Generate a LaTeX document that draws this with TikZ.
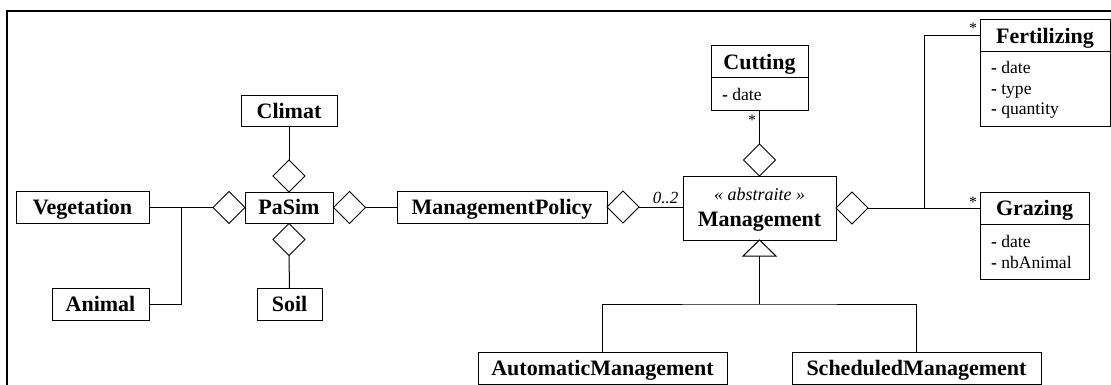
\documentclass[tikz,border=0pt]{standalone}
\usepackage{fontspec}
\setmainfont{Liberation Serif}
\usetikzlibrary{shapes.geometric}
\begin{document}
\begin{tikzpicture}[x=1pt,y=-1pt,
  every node/.style={inner sep=0pt, outer sep=0pt},
  cls/.style={draw, line width=1pt, rectangle,
    font=\fontsize{22}{24}\selectfont\bfseries, text height=14.6pt, text depth=0pt},
  attrbox/.style={draw, line width=1pt, rectangle},
  attr/.style={anchor=base west, font=\fontsize{17.6}{20}\selectfont},
  agg/.style={draw, line width=1pt, diamond, fill=white,
    minimum width=32pt, minimum height=32pt, aspect=1},
  link/.style={line width=1pt},
  mult/.style={font=\fontsize{16}{16}\selectfont},
]
\useasboundingbox (0,0) rectangle (1111,385);

% outer frame
\draw[line width=2pt] (7.3,386) -- (7.3,11) -- (1112,11);

% PaSim and its parts
\node[cls, minimum width=88pt, minimum height=31pt] (pasim) at (289,207.5) {PaSim};
\node[cls, minimum width=96pt, minimum height=31pt] (climat) at (289,111.5) {Climat};
\node[cls, minimum width=65pt, minimum height=32pt] (soil) at (289.5,304) {Soil};
\node[cls, minimum width=133pt, minimum height=32pt] (veg) at (82.5,207.5) {Vegetation};
\node[cls, minimum width=97pt, minimum height=32pt] (animal) at (100.5,304) {Animal};

\node[agg] (dCl) at (289,176) {};
\node[agg] (dSo) at (289,239.5) {};
\node[agg] (dPl) at (229,207.5) {};
\node[agg] (dPr) at (349.5,207.5) {};

\draw[link] (climat.south) -- (dCl.north);
\draw[link] (dSo.south) -- (soil.north);
\draw[link] (veg.east) -- (dPl.west);
\coordinate (jv) at (181,207.5);
\draw[link] (animal.east) -| (jv);

% management policy
\node[cls, minimum width=210pt, minimum height=32pt] (mp) at (502,207) {ManagementPolicy};
\draw[link] (dPr.east) -- (dPr.east -| mp.west);
\node[agg] (dMP) at (623,207) {};

% abstract Management class
\node[draw, line width=1pt, rectangle, minimum width=153pt, minimum height=64pt] (mg) at (759.5,208) {};
\node[anchor=base, font=\fontsize{18}{20}\selectfont\itshape] (mgSt) at (759.5,200) {« abstraite »};
\node[anchor=base, font=\fontsize{22}{24}\selectfont\bfseries] (mgName) at (759.5,226) {Management};
\draw[link] (dMP.east) -- (dMP.east -| mg.west);
\node[anchor=base, font=\fontsize{17}{18}\selectfont\itshape] (mpMult) at (665.5,203) {0..2};

% Cutting
\node[cls, minimum width=97pt, minimum height=32pt] (cut) at (759.5,62) {Cutting};
\node[attrbox, minimum width=97pt, minimum height=33pt] (cutA) at (759.5,94.5) {};
\node[attr] (cutD) at (722,100.7) {\textbf{-} date};
\node[agg] (dCut) at (759.5,160) {};
\draw[link] (cutA.south) -- (dCut.north);
\node[mult, anchor=north] (cutM) at (752,115) {*};

% Fertilizing and Grazing
\node[cls, minimum width=130pt, minimum height=32pt] (fer) at (1045,36) {Fertilizing};
\node[attrbox, minimum width=130pt, minimum height=75pt] (ferA) at (1045,89.5) {};
\node[attr] (ferD) at (991,74) {\textbf{-} date};
\node[attr] (ferT) at (991,94.5) {\textbf{-} type};
\node[attr] (ferQ) at (991,115) {\textbf{-} quantity};

\node[cls, minimum width=109pt, minimum height=32pt] (gra) at (1034.5,208) {Grazing};
\node[attrbox, minimum width=109pt, minimum height=55pt] (graA) at (1034.5,251.5) {};
\node[attr] (graD) at (991,247) {\textbf{-} date};
\node[attr] (graN) at (991,268) {\textbf{-} nbAnimal};

\node[agg] (dMr) at (852,208) {};
\draw[link] (dMr.east) -- (gra.west);
\coordinate (fj) at (924,208);
\draw[link] (fj) |- (fer.west);
\node[mult, anchor=north] (ferM) at (973,23) {*};
\node[mult, anchor=north] (graM) at (973,197) {*};

% specialisations
\node[cls, minimum width=249pt, minimum height=32pt] (am) at (602.5,368) {AutomaticManagement};
\node[cls, minimum width=249pt, minimum height=32pt] (sm) at (916.5,368) {ScheduledManagement};
\draw[link, fill=white] (mg.south) -- ++(-16.5,16) -- ++(33,0) -- cycle;
\coordinate (genB) at (759.5,256);
\coordinate (bus) at (759.5,304);
\draw[link] (genB) -- (bus);
\draw[link] (am.north) |- (bus) -| (sm.north);
\end{tikzpicture}
\end{document}
